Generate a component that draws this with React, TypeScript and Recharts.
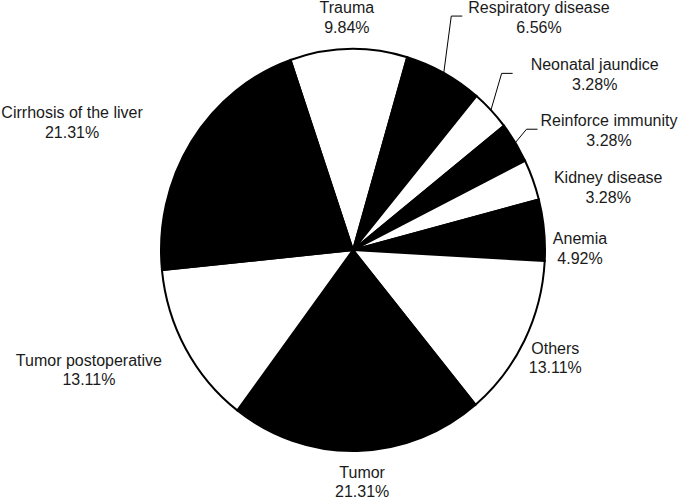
import { PieChart, Pie, Cell } from "recharts"

const categories = [
  "Trauma",
  "Respiratory disease",
  "Neonatal jaundice",
  "Reinforce immunity",
  "Kidney disease",
  "Anemia",
  "Others",
  "Tumor",
  "Tumor postoperative",
  "Cirrhosis of the liver",
]
// number of cases (61 in total)
const cases = [6, 4, 2, 2, 2, 3, 8, 13, 8, 13]

const data = categories.map((name, i) => ({ name, value: cases[i] }))

const FILLS = ["#ffffff", "#000000"]
const FONT = "16px 'Liberation Sans', Arial, sans-serif"
const SQUASH = 1.047 // the pie in the picture is a little taller than wide

// hand placement of labels, offset from the default outside position
const LABEL_NUDGE: Record<string, [number, number]> = {
  Trauma: [-1, -5],
  "Respiratory disease": [58, -32],
  "Neonatal jaundice": [52, -17],
  "Reinforce immunity": [29, 2],
  "Kidney disease": [17, 17],
  Anemia: [1, 21],
  Others: [0, 5],
  Tumor: [4, 4],
  "Tumor postoperative": [-26, 8],
  "Cirrhosis of the liver": [-53, -5],
}
// labels pulled away from their slice get a leader line (gap to the text)
const LEADER: Record<string, number> = {
  "Respiratory disease": 6,
  "Neonatal jaundice": 18,
  "Reinforce immunity": 3,
}

let ctx: CanvasRenderingContext2D | null = null
function textWidth(s: string) {
  if (!ctx) {
    ctx = document.createElement("canvas").getContext("2d")
    if (ctx) ctx.font = FONT
  }
  return ctx ? ctx.measureText(s).width : s.length * 8
}

function renderLabel(props: any) {
  const { cx, cy, outerRadius, midAngle, percent, name } = props
  const a = ((90 - midAngle) * Math.PI) / 180
  const s = Math.sin(a)
  const c = Math.cos(a)
  const rx = outerRadius
  const ry = outerRadius * SQUASH
  const pct = (percent * 100).toFixed(2) + "%"
  const w = Math.max(textWidth(name), textWidth(pct))
  const h = 38
  const [dx, dy] = LABEL_NUDGE[name] ?? [0, 0]
  const x = cx + (rx + 8) * s + (s * w) / 2 + dx
  const y = cy - (ry + 8) * c - (c * h) / 2 + dy

  let leader = null
  if (LEADER[name] !== undefined) {
    const px = cx + rx * s
    const py = cy - ry * c
    const ex = x - w / 2 - LEADER[name]
    const ey = y - 1
    leader = (
      <polyline
        points={`${px},${py} ${ex - 11},${ey} ${ex},${ey}`}
        fill="none"
        stroke="#000"
        strokeWidth={1}
      />
    )
  }

  return (
    <g>
      {leader}
      <text x={x} y={y - 4} textAnchor="middle" fill="#1a1a1a" style={{ font: FONT }}>
        {name}
      </text>
      <text x={x} y={y + 15.5} textAnchor="middle" fill="#1a1a1a" style={{ font: FONT }}>
        {pct}
      </text>
    </g>
  )
}

export default function App() {
  return (
    <div style={{ width: 679, height: 500, background: "#fff" }}>
      <style>{`
        body { margin: 0; }
        .recharts-pie-sector { transform-origin: 353px 250px; transform: scaleY(${SQUASH}); }
      `}</style>
      <PieChart width={679} height={500} margin={{ top: 0, right: 0, bottom: 0, left: 0 }}>
        <Pie
          data={data}
          dataKey="value"
          nameKey="name"
          cx={353}
          cy={250}
          innerRadius={0}
          outerRadius={192}
          startAngle={109}
          endAngle={-251}
          stroke="#000"
          strokeWidth={2}
          label={renderLabel}
          labelLine={false}
          isAnimationActive={false}
        >
          {data.map((_, i) => (
            <Cell key={i} fill={FILLS[i % FILLS.length]} />
          ))}
        </Pie>
      </PieChart>
    </div>
  )
}
